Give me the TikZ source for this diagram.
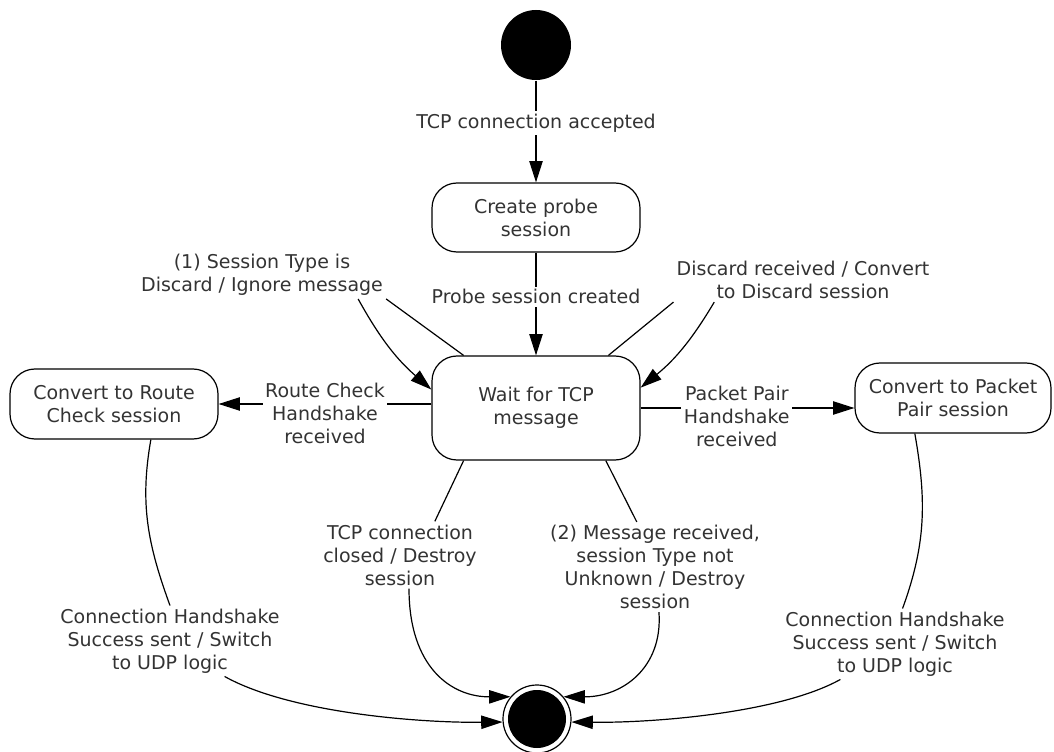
\documentclass[tikz,border=0pt]{standalone}
\usepackage{fontspec}
\setmainfont{DejaVu Sans}
\usetikzlibrary{arrows.meta}

\begin{document}
\begin{tikzpicture}[x=0.75pt,y=0.75pt,line width=0.9pt,
    >={Triangle[length=16pt,width=10pt]},
    every node/.style={font=\fontsize{14.25}{17.25}\selectfont,text=black!80},
    state/.style={draw=black,rounded corners=18.75pt,align=center,minimum width=156pt,minimum height=52.5pt},
    lbl/.style={fill=white,align=center,inner sep=2pt}]
      \useasboundingbox (0,0) rectangle (1054,-752);
      \node[circle,fill=black,minimum size=52.5pt,inner sep=0pt] (init) at (536,-45) {};
      \node[state,minimum height=51.75pt] (create) at (536,-217.5) {Create probe\\session};
      \node[state,minimum height=78pt] (wait) at (536,-408) {Wait for TCP\\message};
      \node[state] (route) at (114,-404) {Convert to Route\\Check session};
      \node[state,minimum width=147pt] (packet) at (953,-398) {Convert to Packet\\Pair session};
      \node[circle,draw=black,minimum size=51pt,inner sep=0pt] (final) at (537,-719) {};
      \fill (final) circle (21.75pt);
      \draw[->] (init) -- node[lbl,pos=0.42] {TCP connection accepted} (create);
      \draw[->] (create) -- node[lbl,pos=0.43] {Probe session created} (wait);
      \draw[->] (wait.west |- route) -- node[lbl,yshift=-6.75pt] {Route Check\\Handshake\\received} (route);
      \draw[->] (wait.east) -- node[lbl,pos=0.45,yshift=-6pt] {Packet Pair\\Handshake\\received} (wait.east -| packet.west);
      \node[lbl] (discard) at (262,-275) {(1) Session Type is\\Discard / Ignore message};
      \draw (wait.144) -- (discard.south east);
      \draw[->] (discard.-14) to[bend right=10] (wait.170);
      \node[lbl] (convert) at (803,-280) {Discard received / Convert\\to Discard session};
      \draw (wait.36) -- (convert.south west);
      \draw[->] (convert.194) to[bend left=10] (wait.11);
      \node[lbl] (closed) at (400,-555) {TCP connection\\closed / Destroy\\session};
      \draw (wait.216) -- (closed.44);
      \draw[->] (closed.-75) .. controls (409,-668) and (452,-697) .. (final.140);
      \node[lbl] (unknown) at (655,-567) {(2) Message received,\\session Type not\\Unknown / Destroy\\session};
      \draw (wait.323) -- (unknown.112);
      \draw[->] (unknown.-85) .. controls (663,-668) and (622,-697) .. (final.40);
      \node[lbl] (udpleft) at (170,-641) {Connection Handshake\\Success sent / Switch\\to UDP logic};
      \draw (route.-44) to[out=-100,in=110] (udpleft.north);
      \draw[->] (udpleft.-33) .. controls (290,-713) and (420,-723) .. (final.185);
      \node[lbl] (udpright) at (895,-644) {Connection Handshake\\Success sent / Switch\\to UDP logic};
      \draw (packet.223) to[out=-80,in=70] (udpright.78);
      \draw[->] (udpright.213) .. controls (780,-713) and (654,-723) .. (final.-5);
    \end{tikzpicture}
\end{document}
